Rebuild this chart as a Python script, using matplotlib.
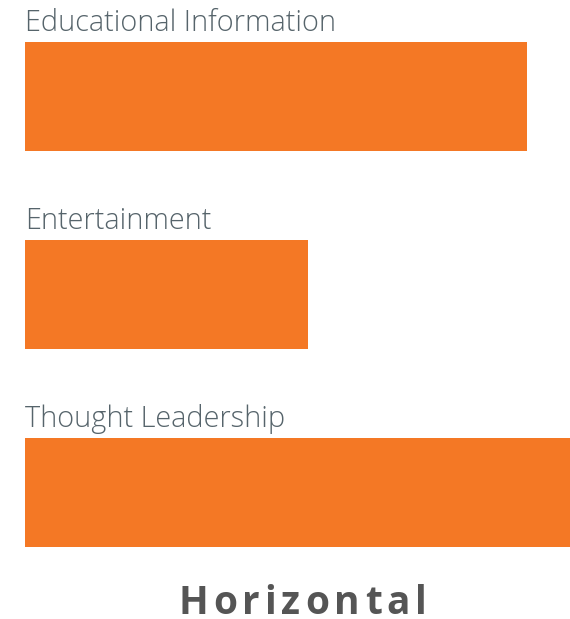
import matplotlib
matplotlib.use("Agg")
import matplotlib.pyplot as plt
from matplotlib.transforms import IdentityTransform

categories = ["Educational Information", "Entertainment", "Thought Leadership"]
values = [502, 283, 545]
title = "Horizontal"

bar_color = "#F47825"
label_color = "#56646B"

fig = plt.figure(figsize=(5.70, 6.19), dpi=100)
ax = fig.add_axes([0, 0, 1, 1])

pos = list(range(len(categories)))
bar_h = 0.55
ax.barh(pos, values, height=bar_h, color=bar_color)

for p, name in zip(pos, categories):
  ax.text(0, p - bar_h / 2 - 0.055, name, ha="left", va="baseline",
          fontsize=20.8, family="Open Sans", fontweight="light",
          color=label_color)

ax.set_xlim(-25, 545)
ax.set_ylim(2.639, -0.487)
ax.axis("off")

# title below the bars, drawn letter by letter to get the tracking
renderer = fig.canvas.get_renderer()
tstyle = dict(fontsize=28, fontweight="bold", family="Open Sans", color="#555555")
widths = []
for ch in title:
  t = fig.text(0, 0, ch, **tstyle)
  widths.append(t.get_window_extent(renderer).width)
  t.remove()
total = 249
track = (total - sum(widths)) / (len(title) - 1)
x = 178
for ch, w in zip(title, widths):
  fig.text(x, 5, ch, transform=IdentityTransform(), ha="left", va="baseline", **tstyle)
  x += w + track

fig.savefig("out.png", dpi=100)
